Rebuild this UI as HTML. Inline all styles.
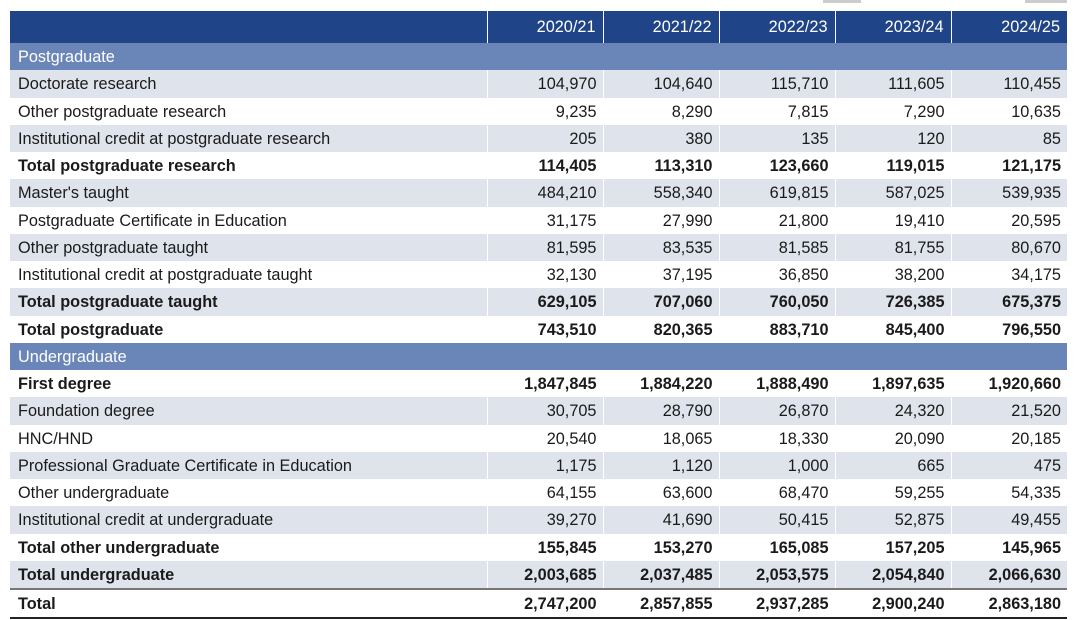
<!DOCTYPE html>
<html><head><style>
body{margin:0;background:#fff;width:1080px;height:620px;overflow:hidden;font-family:"Liberation Sans",Arial,sans-serif;font-size:16.3px;color:#1a1a1a;position:relative}
table{position:absolute;left:10px;top:11px;border-collapse:collapse;table-layout:fixed;width:1057px}
td,th{padding:0 6px;height:27.25px;border-left:1px solid #fff;white-space:nowrap}
td{padding-top:2px;padding-bottom:0;height:25.25px}
th{background:#1f4488;color:#fff;font-weight:normal;text-align:right;height:32px;padding:0 7px}
td{text-align:right}
td:first-child{text-align:left;border-left:none;padding-left:8px}
tr.s td{background:#6a86b8;color:#fff}
tr.g td{background:#dfe3ec}
tr.b td{font-weight:bold}
tr.t td{border-top:2px solid #777;border-bottom:2px solid #222}
.tab{position:absolute;top:0;height:3px;background:#ccc}
</style></head><body>
<div class="tab" style="left:823px;width:38px"></div><div class="tab" style="left:1025px;width:42px"></div>
<table>
<colgroup><col style="width:477px"><col style="width:116px"><col style="width:116px"><col style="width:116px"><col style="width:116px"><col style="width:116px"></colgroup>
<tr><th style="border-left:none"></th><th>2020/21</th><th>2021/22</th><th>2022/23</th><th>2023/24</th><th>2024/25</th></tr>
<tr class="s"><td colspan="6">Postgraduate</td></tr>
<tr class="g"><td>Doctorate research</td><td>104,970</td><td>104,640</td><td>115,710</td><td>111,605</td><td>110,455</td></tr>
<tr><td>Other postgraduate research</td><td>9,235</td><td>8,290</td><td>7,815</td><td>7,290</td><td>10,635</td></tr>
<tr class="g"><td>Institutional credit at postgraduate research</td><td>205</td><td>380</td><td>135</td><td>120</td><td>85</td></tr>
<tr class="b"><td>Total postgraduate research</td><td>114,405</td><td>113,310</td><td>123,660</td><td>119,015</td><td>121,175</td></tr>
<tr class="g"><td>Master's taught</td><td>484,210</td><td>558,340</td><td>619,815</td><td>587,025</td><td>539,935</td></tr>
<tr><td>Postgraduate Certificate in Education</td><td>31,175</td><td>27,990</td><td>21,800</td><td>19,410</td><td>20,595</td></tr>
<tr class="g"><td>Other postgraduate taught</td><td>81,595</td><td>83,535</td><td>81,585</td><td>81,755</td><td>80,670</td></tr>
<tr><td>Institutional credit at postgraduate taught</td><td>32,130</td><td>37,195</td><td>36,850</td><td>38,200</td><td>34,175</td></tr>
<tr class="g b"><td>Total postgraduate taught</td><td>629,105</td><td>707,060</td><td>760,050</td><td>726,385</td><td>675,375</td></tr>
<tr class="b"><td>Total postgraduate</td><td>743,510</td><td>820,365</td><td>883,710</td><td>845,400</td><td>796,550</td></tr>
<tr class="s"><td colspan="6">Undergraduate</td></tr>
<tr class="b"><td>First degree</td><td>1,847,845</td><td>1,884,220</td><td>1,888,490</td><td>1,897,635</td><td>1,920,660</td></tr>
<tr class="g"><td>Foundation degree</td><td>30,705</td><td>28,790</td><td>26,870</td><td>24,320</td><td>21,520</td></tr>
<tr><td>HNC/HND</td><td>20,540</td><td>18,065</td><td>18,330</td><td>20,090</td><td>20,185</td></tr>
<tr class="g"><td>Professional Graduate Certificate in Education</td><td>1,175</td><td>1,120</td><td>1,000</td><td>665</td><td>475</td></tr>
<tr><td>Other undergraduate</td><td>64,155</td><td>63,600</td><td>68,470</td><td>59,255</td><td>54,335</td></tr>
<tr class="g"><td>Institutional credit at undergraduate</td><td>39,270</td><td>41,690</td><td>50,415</td><td>52,875</td><td>49,455</td></tr>
<tr class="b"><td>Total other undergraduate</td><td>155,845</td><td>153,270</td><td>165,085</td><td>157,205</td><td>145,965</td></tr>
<tr class="g b"><td>Total undergraduate</td><td>2,003,685</td><td>2,037,485</td><td>2,053,575</td><td>2,054,840</td><td>2,066,630</td></tr>
<tr class="b t"><td>Total</td><td>2,747,200</td><td>2,857,855</td><td>2,937,285</td><td>2,900,240</td><td>2,863,180</td></tr>
</table>
</body></html>
